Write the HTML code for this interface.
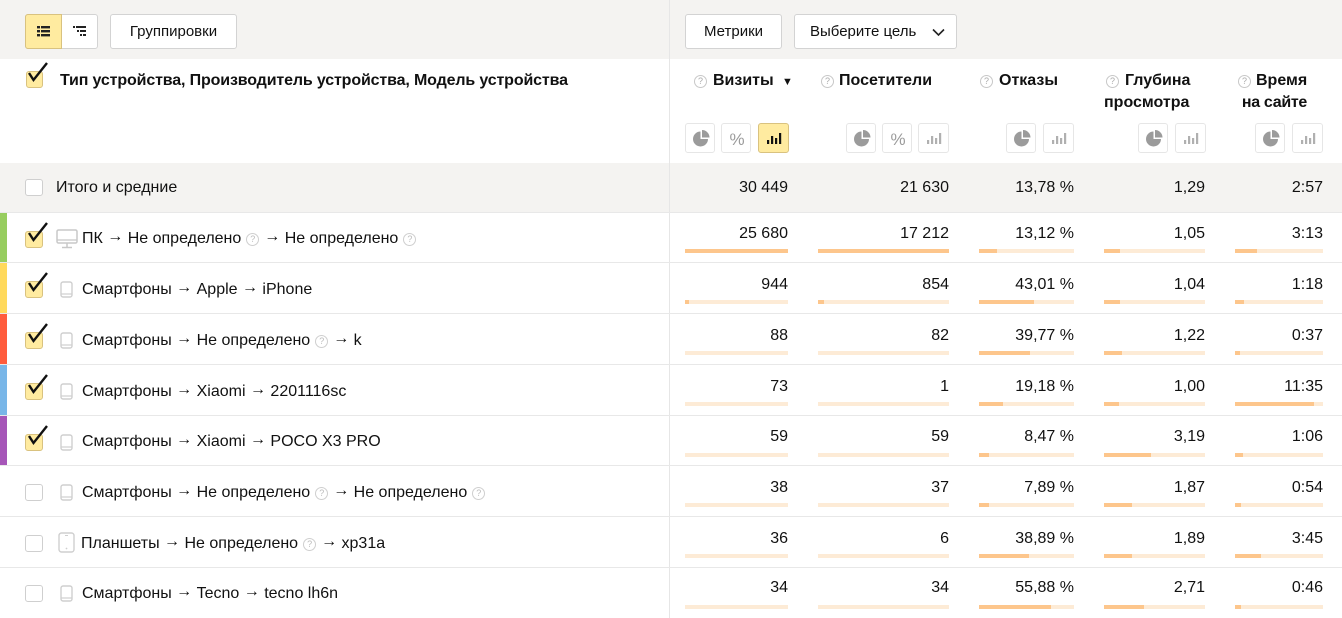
<!DOCTYPE html>
<html><head><meta charset="utf-8">
<style>
*{margin:0;padding:0;box-sizing:border-box}
body{width:1342px;height:618px;overflow:hidden;background:#fff;font-family:"Liberation Sans",Arial,sans-serif;color:#000;position:relative}
.a{position:absolute}
.btn{position:absolute;background:#fff;border:1px solid #d3d3d3;border-radius:3px;font-size:15px;line-height:33px;text-align:center;color:#111}
.num{position:absolute;font-size:16px;line-height:20px;text-align:right;white-space:nowrap;color:#111}
.lbl{position:absolute;left:82px;font-size:16px;line-height:20px;white-space:nowrap;color:#111}
.ar{position:relative;top:-2px}
.bar{position:absolute;height:4px;background:#fdebd6}
.bar i{position:absolute;left:0;top:0;height:4px;background:#fdc68c}
.cb{position:absolute;left:25px;width:18px;height:17px;border:1px solid #cfcfcf;border-radius:3px;background:#fff}
.cbon{background:#ffeba0;border-color:#d9c27f}
.line{position:absolute;left:0;width:1342px;height:1px;background:#e8e8e8}
.q{display:inline-block;width:13px;height:13px;border:1px solid #cfcfcf;border-radius:50%;font-size:9px;line-height:11px;text-align:center;color:#bbb;vertical-align:1px;margin:0 5px 0 5px}
.hq{position:absolute;width:13px;height:13px;border:1px solid #c8c8c8;border-radius:50%;font-size:9px;line-height:11px;text-align:center;color:#aaa}
.hd{position:absolute;font-size:16px;font-weight:bold;line-height:20px;white-space:nowrap;color:#111}
.ib{position:absolute;top:123px;width:30px;height:30px;border:1px solid #e6e6e6;border-radius:3px;background:#fff}
.ib svg{position:absolute;left:0;top:0}
.strip{position:absolute;left:0;width:7px}
</style></head><body>

<div class="a" style="left:0;top:0;width:1342px;height:59px;background:#f4f3f1"></div>
<div class="a" style="left:0;top:163px;width:1342px;height:49px;background:#f4f3f1"></div>
<div class="a" style="left:669px;top:0;width:1px;height:618px;background:#e6e6e6"></div>

<div class="a" style="left:25px;top:14px;width:73px;height:35px;border:1px solid #d3d3d3;border-radius:3px;background:#fff"></div>
<div class="a" style="left:25px;top:14px;width:37px;height:35px;border:1px solid #d9c27f;border-radius:3px 0 0 3px;background:#ffeba0"></div>
<svg class="a" style="left:36px;top:24px" width="16" height="14" viewBox="0 0 16 14">
<rect x="1" y="2" width="3" height="2.4" fill="#222"/><rect x="5" y="2" width="9" height="2.4" fill="#222"/>
<rect x="1" y="6" width="3" height="2.4" fill="#222"/><rect x="5" y="6" width="9" height="2.4" fill="#222"/>
<rect x="1" y="10" width="3" height="2.4" fill="#222"/><rect x="5" y="10" width="9" height="2.4" fill="#222"/>
</svg>
<svg class="a" style="left:72px;top:24px" width="16" height="14" viewBox="0 0 16 14">
<rect x="1" y="2" width="2" height="2" fill="#222"/><rect x="4" y="2" width="10" height="2" fill="#222"/>
<rect x="5" y="6" width="2" height="2" fill="#222"/><rect x="8" y="6" width="6" height="2" fill="#222"/>
<rect x="8" y="10" width="2" height="2" fill="#222"/><rect x="11" y="10" width="3" height="2" fill="#222"/>
</svg>
<div class="btn" style="left:110px;top:14px;width:127px;height:35px">Группировки</div>
<div class="btn" style="left:685px;top:14px;width:97px;height:35px">Метрики</div>
<div class="btn" style="left:794px;top:14px;width:163px;height:35px;text-align:left;padding-left:15px">Выберите цель<svg style="position:absolute;left:137px;top:13px" width="13" height="9" viewBox="0 0 13 9"><path d="M1 1.5 L6.5 7 L12 1.5" fill="none" stroke="#222" stroke-width="1.6"/></svg></div>

<div class="cb cbon" style="left:26px;top:71px;width:17px"></div>
<svg class="a" style="left:25px;top:60px" width="26" height="24" viewBox="0 0 26 24"><path d="M4 13 L8.5 20 L22 3" fill="none" stroke="#111" stroke-width="2.4"/></svg>
<div class="hd" style="left:60px;top:71px;letter-spacing:-0.14px">Тип устройства, Производитель устройства, Модель устройства</div>

<div class="hq" style="left:694px;top:75px">?</div>
<div class="hd" style="left:713px;top:71px">Визиты</div>
<div class="a" style="left:782px;top:72px;font-size:11px;line-height:20px;color:#111">▼</div>

<div class="hq" style="left:821px;top:75px">?</div>
<div class="hd" style="left:839px;top:71px">Посетители</div>

<div class="hq" style="left:980px;top:75px">?</div>
<div class="hd" style="left:999px;top:71px">Отказы</div>

<div class="hq" style="left:1106px;top:75px">?</div>
<div class="hd" style="left:1125px;top:71px">Глубина</div>
<div class="hd" style="left:1104px;top:93px">просмотра</div>

<div class="hq" style="left:1238px;top:75px">?</div>
<div class="hd" style="left:1256px;top:71px">Время</div>
<div class="hd" style="right:35px;top:93px;letter-spacing:-0.3px">на сайте</div>

<svg width="0" height="0" style="position:absolute">
<defs>
<g id="pie"><path d="M14.5 7.5 A7.5 7.5 0 1 0 22 15 L14.5 15 Z" fill="#9b9b9b"/><path d="M16 6 A7.5 7.5 0 0 1 23.5 13.5 L16 13.5 Z" fill="#9b9b9b"/></g>
<g id="pct"><text x="15" y="21" font-family="Liberation Sans, sans-serif" font-size="17" text-anchor="middle" fill="#9b9b9b">%</text></g>
<g id="bars"><rect x="8" y="16" width="2.2" height="4"/><rect x="12" y="12" width="2.2" height="8"/><rect x="16" y="14" width="2.2" height="6"/><rect x="20" y="9" width="2.2" height="11"/></g>
</defs>
</svg>

<div class="ib" style="left:685px"><svg width="30" height="30"><use href="#pie"/></svg></div>
<div class="ib" style="left:721px"><svg width="30" height="30"><use href="#pct"/></svg></div>
<div class="ib" style="left:758px;width:31px;background:#ffeba0;border-color:#d9c27f"><svg width="30" height="30"><use href="#bars" fill="#111"/></svg></div>

<div class="ib" style="left:846px"><svg width="30" height="30"><use href="#pie"/></svg></div>
<div class="ib" style="left:882px"><svg width="30" height="30"><use href="#pct"/></svg></div>
<div class="ib" style="left:918px;width:31px"><svg width="30" height="30"><use href="#bars" fill="#b0b0b0"/></svg></div>

<div class="ib" style="left:1006px"><svg width="30" height="30"><use href="#pie"/></svg></div>
<div class="ib" style="left:1043px;width:31px"><svg width="30" height="30"><use href="#bars" fill="#b0b0b0"/></svg></div>

<div class="ib" style="left:1138px"><svg width="30" height="30"><use href="#pie"/></svg></div>
<div class="ib" style="left:1175px;width:31px"><svg width="30" height="30"><use href="#bars" fill="#b0b0b0"/></svg></div>

<div class="ib" style="left:1255px"><svg width="30" height="30"><use href="#pie"/></svg></div>
<div class="ib" style="left:1292px;width:31px"><svg width="30" height="30"><use href="#bars" fill="#b0b0b0"/></svg></div>

<div class="cb" style="top:179px"></div>
<div class="lbl" style="left:56px;top:178px">Итого и средние</div>
<div class="num" style="right:554px;top:178px">30 449</div>
<div class="num" style="right:393px;top:178px">21 630</div>
<div class="num" style="right:268px;top:178px">13,78 %</div>
<div class="num" style="right:137px;top:178px">1,29</div>
<div class="num" style="right:19px;top:178px">2:57</div>

<div class="line" style="top:212px"></div>
<div class="line" style="top:262px"></div>
<div class="line" style="top:313px"></div>
<div class="line" style="top:364px"></div>
<div class="line" style="top:415px"></div>
<div class="line" style="top:465px"></div>
<div class="line" style="top:516px"></div>
<div class="line" style="top:567px"></div>

<div class="strip" style="top:213px;height:49px;background:#97cd5f"></div>
<div class="strip" style="top:263px;height:50px;background:#ffd95c"></div>
<div class="strip" style="top:314px;height:50px;background:#ff5c3d"></div>
<div class="strip" style="top:365px;height:50px;background:#78b6e8"></div>
<div class="strip" style="top:416px;height:49px;background:#a656b8"></div>

<!-- Row 1 -->
<div class="cb cbon" style="top:231px"></div>
<svg class="a" style="left:25px;top:220px" width="26" height="24" viewBox="0 0 26 24"><path d="M4 13 L8.5 20 L22 3" fill="none" stroke="#111" stroke-width="2.4"/></svg>
<svg class="a" style="left:56px;top:229px" width="22" height="20" viewBox="0 0 22 20"><rect x="1" y="1" width="20" height="13" rx="1.5" fill="none" stroke="#c8c8c8" stroke-width="1.5"/><line x1="1" y1="11" x2="21" y2="11" stroke="#c8c8c8" stroke-width="1.2"/><line x1="11" y1="14" x2="11" y2="18" stroke="#c8c8c8" stroke-width="1.5"/><line x1="6" y1="18.5" x2="16" y2="18.5" stroke="#c8c8c8" stroke-width="1.5"/></svg>
<div class="lbl" style="top:229px">ПК <span class="ar">→</span> Не определено<span class="q">?</span><span class="ar">→</span> Не определено<span class="q">?</span></div>
<div class="num" style="right:554px;top:224px">25 680</div>
<div class="num" style="right:393px;top:224px">17 212</div>
<div class="num" style="right:268px;top:224px">13,12 %</div>
<div class="num" style="right:137px;top:224px">1,05</div>
<div class="num" style="right:19px;top:224px">3:13</div>
<div class="bar" style="left:685px;width:103px;top:249px"><i style="width:103px"></i></div>
<div class="bar" style="left:818px;width:131px;top:249px"><i style="width:131px"></i></div>
<div class="bar" style="left:979px;width:95px;top:249px"><i style="width:18px"></i></div>
<div class="bar" style="left:1104px;width:101px;top:249px"><i style="width:16px"></i></div>
<div class="bar" style="left:1235px;width:88px;top:249px"><i style="width:22px"></i></div>

<!-- Row 2 -->
<div class="cb cbon" style="top:281px"></div>
<svg class="a" style="left:25px;top:270px" width="26" height="24" viewBox="0 0 26 24"><path d="M4 13 L8.5 20 L22 3" fill="none" stroke="#111" stroke-width="2.4"/></svg>
<svg class="a" style="left:60px;top:281px" width="13" height="17" viewBox="0 0 13 17"><rect x="1" y="1" width="11" height="15" rx="2" fill="none" stroke="#cfcfcf" stroke-width="1.4"/><line x1="1" y1="13" x2="12" y2="13" stroke="#cfcfcf" stroke-width="1.2"/></svg>
<div class="lbl" style="top:280px">Смартфоны <span class="ar">→</span> Apple <span class="ar">→</span> iPhone</div>
<div class="num" style="right:554px;top:275px">944</div>
<div class="num" style="right:393px;top:275px">854</div>
<div class="num" style="right:268px;top:275px">43,01 %</div>
<div class="num" style="right:137px;top:275px">1,04</div>
<div class="num" style="right:19px;top:275px">1:18</div>
<div class="bar" style="left:685px;width:103px;top:300px"><i style="width:4px"></i></div>
<div class="bar" style="left:818px;width:131px;top:300px"><i style="width:6px"></i></div>
<div class="bar" style="left:979px;width:95px;top:300px"><i style="width:55px"></i></div>
<div class="bar" style="left:1104px;width:101px;top:300px"><i style="width:16px"></i></div>
<div class="bar" style="left:1235px;width:88px;top:300px"><i style="width:9px"></i></div>

<!-- Row 3 -->
<div class="cb cbon" style="top:332px"></div>
<svg class="a" style="left:25px;top:321px" width="26" height="24" viewBox="0 0 26 24"><path d="M4 13 L8.5 20 L22 3" fill="none" stroke="#111" stroke-width="2.4"/></svg>
<svg class="a" style="left:60px;top:332px" width="13" height="17" viewBox="0 0 13 17"><rect x="1" y="1" width="11" height="15" rx="2" fill="none" stroke="#cfcfcf" stroke-width="1.4"/><line x1="1" y1="13" x2="12" y2="13" stroke="#cfcfcf" stroke-width="1.2"/></svg>
<div class="lbl" style="top:331px">Смартфоны <span class="ar">→</span> Не определено<span class="q">?</span><span class="ar">→</span> k</div>
<div class="num" style="right:554px;top:326px">88</div>
<div class="num" style="right:393px;top:326px">82</div>
<div class="num" style="right:268px;top:326px">39,77 %</div>
<div class="num" style="right:137px;top:326px">1,22</div>
<div class="num" style="right:19px;top:326px">0:37</div>
<div class="bar" style="left:685px;width:103px;top:351px"></div>
<div class="bar" style="left:818px;width:131px;top:351px"></div>
<div class="bar" style="left:979px;width:95px;top:351px"><i style="width:51px"></i></div>
<div class="bar" style="left:1104px;width:101px;top:351px"><i style="width:18px"></i></div>
<div class="bar" style="left:1235px;width:88px;top:351px"><i style="width:5px"></i></div>

<!-- Row 4 -->
<div class="cb cbon" style="top:383px"></div>
<svg class="a" style="left:25px;top:372px" width="26" height="24" viewBox="0 0 26 24"><path d="M4 13 L8.5 20 L22 3" fill="none" stroke="#111" stroke-width="2.4"/></svg>
<svg class="a" style="left:60px;top:383px" width="13" height="17" viewBox="0 0 13 17"><rect x="1" y="1" width="11" height="15" rx="2" fill="none" stroke="#cfcfcf" stroke-width="1.4"/><line x1="1" y1="13" x2="12" y2="13" stroke="#cfcfcf" stroke-width="1.2"/></svg>
<div class="lbl" style="top:382px">Смартфоны <span class="ar">→</span> Xiaomi <span class="ar">→</span> 2201116sc</div>
<div class="num" style="right:554px;top:377px">73</div>
<div class="num" style="right:393px;top:377px">1</div>
<div class="num" style="right:268px;top:377px">19,18 %</div>
<div class="num" style="right:137px;top:377px">1,00</div>
<div class="num" style="right:19px;top:377px">11:35</div>
<div class="bar" style="left:685px;width:103px;top:402px"></div>
<div class="bar" style="left:818px;width:131px;top:402px"></div>
<div class="bar" style="left:979px;width:95px;top:402px"><i style="width:24px"></i></div>
<div class="bar" style="left:1104px;width:101px;top:402px"><i style="width:15px"></i></div>
<div class="bar" style="left:1235px;width:88px;top:402px"><i style="width:79px"></i></div>

<!-- Row 5 -->
<div class="cb cbon" style="top:434px"></div>
<svg class="a" style="left:25px;top:423px" width="26" height="24" viewBox="0 0 26 24"><path d="M4 13 L8.5 20 L22 3" fill="none" stroke="#111" stroke-width="2.4"/></svg>
<svg class="a" style="left:60px;top:434px" width="13" height="17" viewBox="0 0 13 17"><rect x="1" y="1" width="11" height="15" rx="2" fill="none" stroke="#cfcfcf" stroke-width="1.4"/><line x1="1" y1="13" x2="12" y2="13" stroke="#cfcfcf" stroke-width="1.2"/></svg>
<div class="lbl" style="top:432px">Смартфоны <span class="ar">→</span> Xiaomi <span class="ar">→</span> POCO X3 PRO</div>
<div class="num" style="right:554px;top:427px">59</div>
<div class="num" style="right:393px;top:427px">59</div>
<div class="num" style="right:268px;top:427px">8,47 %</div>
<div class="num" style="right:137px;top:427px">3,19</div>
<div class="num" style="right:19px;top:427px">1:06</div>
<div class="bar" style="left:685px;width:103px;top:453px"></div>
<div class="bar" style="left:818px;width:131px;top:453px"></div>
<div class="bar" style="left:979px;width:95px;top:453px"><i style="width:10px"></i></div>
<div class="bar" style="left:1104px;width:101px;top:453px"><i style="width:47px"></i></div>
<div class="bar" style="left:1235px;width:88px;top:453px"><i style="width:8px"></i></div>

<!-- Row 6 -->
<div class="cb" style="top:484px"></div>
<svg class="a" style="left:60px;top:484px" width="13" height="17" viewBox="0 0 13 17"><rect x="1" y="1" width="11" height="15" rx="2" fill="none" stroke="#cfcfcf" stroke-width="1.4"/><line x1="1" y1="13" x2="12" y2="13" stroke="#cfcfcf" stroke-width="1.2"/></svg>
<div class="lbl" style="top:483px">Смартфоны <span class="ar">→</span> Не определено<span class="q">?</span><span class="ar">→</span> Не определено<span class="q">?</span></div>
<div class="num" style="right:554px;top:478px">38</div>
<div class="num" style="right:393px;top:478px">37</div>
<div class="num" style="right:268px;top:478px">7,89 %</div>
<div class="num" style="right:137px;top:478px">1,87</div>
<div class="num" style="right:19px;top:478px">0:54</div>
<div class="bar" style="left:685px;width:103px;top:503px"></div>
<div class="bar" style="left:818px;width:131px;top:503px"></div>
<div class="bar" style="left:979px;width:95px;top:503px"><i style="width:10px"></i></div>
<div class="bar" style="left:1104px;width:101px;top:503px"><i style="width:28px"></i></div>
<div class="bar" style="left:1235px;width:88px;top:503px"><i style="width:6px"></i></div>

<!-- Row 7 -->
<div class="cb" style="top:535px"></div>
<svg class="a" style="left:58px;top:532px" width="17" height="21" viewBox="0 0 17 21"><rect x="1" y="1" width="15" height="19" rx="2.5" fill="none" stroke="#cfcfcf" stroke-width="1.4"/><circle cx="8.5" cy="16.5" r="0.9" fill="#cfcfcf"/><line x1="7" y1="3.5" x2="10" y2="3.5" stroke="#cfcfcf" stroke-width="1"/></svg>
<div class="lbl" style="left:81px;top:534px">Планшеты <span class="ar">→</span> Не определено<span class="q">?</span><span class="ar">→</span> xp31a</div>
<div class="num" style="right:554px;top:529px">36</div>
<div class="num" style="right:393px;top:529px">6</div>
<div class="num" style="right:268px;top:529px">38,89 %</div>
<div class="num" style="right:137px;top:529px">1,89</div>
<div class="num" style="right:19px;top:529px">3:45</div>
<div class="bar" style="left:685px;width:103px;top:554px"></div>
<div class="bar" style="left:818px;width:131px;top:554px"></div>
<div class="bar" style="left:979px;width:95px;top:554px"><i style="width:50px"></i></div>
<div class="bar" style="left:1104px;width:101px;top:554px"><i style="width:28px"></i></div>
<div class="bar" style="left:1235px;width:88px;top:554px"><i style="width:26px"></i></div>

<!-- Row 8 -->
<div class="cb" style="top:585px"></div>
<svg class="a" style="left:60px;top:585px" width="13" height="17" viewBox="0 0 13 17"><rect x="1" y="1" width="11" height="15" rx="2" fill="none" stroke="#cfcfcf" stroke-width="1.4"/><line x1="1" y1="13" x2="12" y2="13" stroke="#cfcfcf" stroke-width="1.2"/></svg>
<div class="lbl" style="top:584px">Смартфоны <span class="ar">→</span> Tecno <span class="ar">→</span> tecno lh6n</div>
<div class="num" style="right:554px;top:578px">34</div>
<div class="num" style="right:393px;top:578px">34</div>
<div class="num" style="right:268px;top:578px">55,88 %</div>
<div class="num" style="right:137px;top:578px">2,71</div>
<div class="num" style="right:19px;top:578px">0:46</div>
<div class="bar" style="left:685px;width:103px;top:605px"></div>
<div class="bar" style="left:818px;width:131px;top:605px"></div>
<div class="bar" style="left:979px;width:95px;top:605px"><i style="width:72px"></i></div>
<div class="bar" style="left:1104px;width:101px;top:605px"><i style="width:40px"></i></div>
<div class="bar" style="left:1235px;width:88px;top:605px"><i style="width:6px"></i></div>

</body></html>
